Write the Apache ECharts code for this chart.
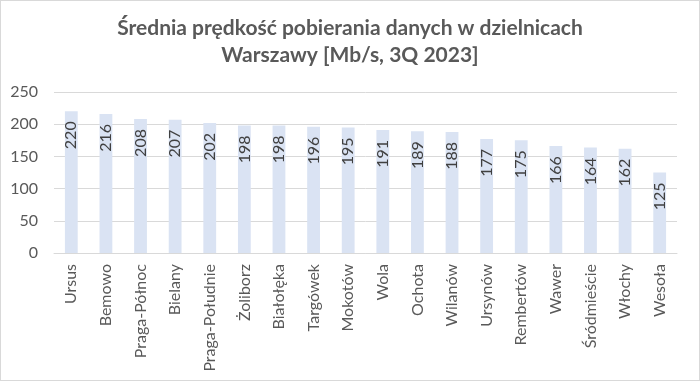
<!DOCTYPE html>
<html><head><meta charset="utf-8">
<script src="https://cdn.jsdelivr.net/npm/echarts@6/dist/echarts.min.js"></script>
<style>html,body{margin:0;padding:0;background:#fff}#c{width:700px;height:381px;box-sizing:border-box;border:1px solid #d9d9d9;}</style>
</head><body><div id="c"></div>
<script>
const categories = ["Ursus","Bemowo","Praga-Północ","Bielany","Praga-Południe","Żoliborz","Białołęka","Targówek","Mokotów","Wola","Ochota","Wilanów","Ursynów","Rembertów","Wawer","Śródmieście","Włochy","Wesoła"];
const values = [220,216,208,207,202,198,198,196,195,191,189,188,177,175,166,164,162,125];
const titleText = "Średnia prędkość pobierania danych w dzielnicach\nWarszawy [Mb/s, 3Q 2023]";
const font = "Lato, 'Open Sans', sans-serif";
const chart = echarts.init(document.getElementById('c'), null, {renderer:'canvas'});
chart.setOption({
  animation:false,
  title:{text:titleText,left:'center',top:9,textStyle:{fontFamily:font,fontSize:21,fontWeight:'bold',color:'#595959',lineHeight:27}},
  grid:{left:53,right:22,top:91,bottom:127,containLabel:false},
  xAxis:{type:'category',data:categories,axisLine:{lineStyle:{color:'#d9d9d9'}},axisTick:{show:false},
    axisLabel:{rotate:90,interval:0,margin:11,color:'#595959',fontFamily:font,fontSize:16}},
  yAxis:{type:'value',min:0,max:250,interval:50,axisLine:{show:false},axisTick:{show:false},
    splitLine:{lineStyle:{color:'#d9d9d9'}},axisLabel:{margin:16,color:'#595959',fontFamily:font,fontSize:16}},
  series:[{type:'bar',data:values,barWidth:'37%',itemStyle:{color:'#dae3f3'},
    label:{show:true,position:'insideTop',rotate:90,align:'right',verticalAlign:'middle',distance:10,color:'#404040',fontFamily:font,fontSize:16}}]
});
</script></body></html>
